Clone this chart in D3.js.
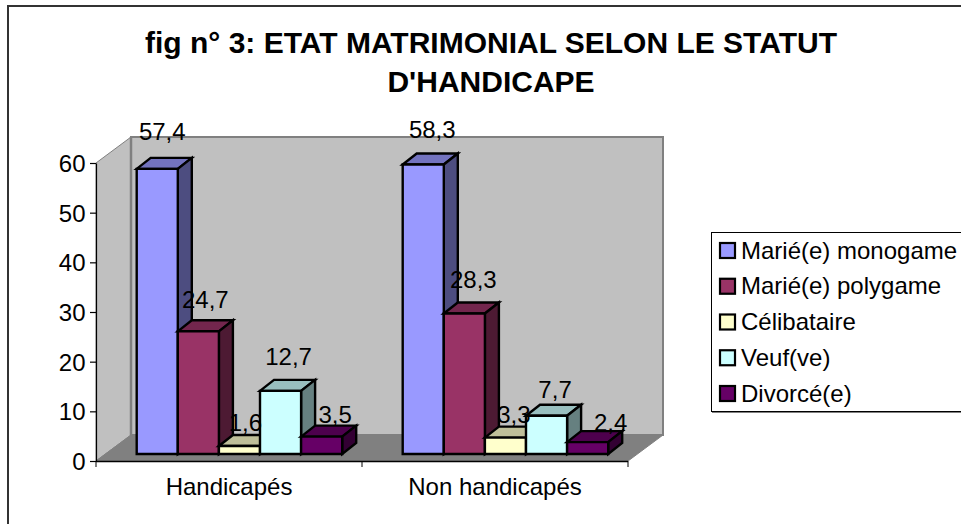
<!DOCTYPE html>
<html><head><meta charset="utf-8">
<script src="https://cdn.jsdelivr.net/npm/d3@7"></script>
<style>html,body{margin:0;padding:0;background:#fff;overflow:hidden}svg{display:block}text{font-family:"Liberation Sans",Arial,sans-serif;fill:#000}</style>
</head><body><div id="c"></div>
<script>
const titleLines = ["fig n° 3: ETAT MATRIMONIAL SELON LE STATUT", "D'HANDICAPE"];
const groups = ["Handicapés", "Non handicapés"];
const seriesNames = ["Marié(e) monogame", "Marié(e) polygame", "Célibataire", "Veuf(ve)", "Divorcé(e)"];
const handicapes = [57.4, 24.7, 1.6, 12.7, 3.5];
const nonHandicapes = [58.3, 28.3, 3.3, 7.7, 2.4];
const groupValues = [handicapes, nonHandicapes];
const seriesColors = ["#9999ff", "#993366", "#ffffcc", "#ccffff", "#660066"];
const yTicks = [0, 10, 20, 30, 40, 50, 60];

const W = 961, H = 524;
const svg = d3.select("#c").append("svg").attr("width", W).attr("height", H);
const fmt = v => String(v).replace(".", ",");

// chart frame runs off the right and bottom of the picture
svg.append("rect").attr("x", 8).attr("y", 6).attr("width", 1000).attr("height", 600)
  .attr("fill", "#fff").attr("stroke", "#333").attr("stroke-width", 2);

// scales
const y = d3.scaleLinear().domain([0, 60]).range([461, 163]);
const x0 = d3.scaleBand().domain(groups).range([96, 628]);
const x1 = d3.scaleBand().domain(seriesNames).range([0, 205.5]);
const wallDx = 35, wallDy = -26;
const barOffX = 40.7, barOffY = -7, barDx = 14, barDy = -11;

// 3D box
const L = x0.range()[0], R = x0.range()[1], B = y(0), T = y(60);
const poly = (pts, fill, stroke, sw) => svg.append("polygon").attr("points", pts.map(p => p.join(",")).join(" "))
  .attr("fill", fill).attr("stroke", stroke || "none").attr("stroke-width", sw || 0).attr("stroke-linejoin", "miter");
poly([[L + wallDx, T + wallDy], [R + wallDx, T + wallDy], [R + wallDx, B + wallDy], [L + wallDx, B + wallDy]], "#c0c0c0", "#808080", 2);
poly([[L, T], [L + wallDx, T + wallDy], [L + wallDx, B + wallDy], [L, B]], "#c0c0c0", "#808080", 1);
poly([[L, B], [L + wallDx, B + wallDy], [R + wallDx, B + wallDy], [R, B]], "#808080", "#808080", 1);
svg.append("line").attr("x1", L + wallDx).attr("x2", L + wallDx).attr("y1", T + wallDy).attr("y2", B + wallDy).attr("stroke", "#808080").attr("stroke-width", 2.5);

// axes
const yAxis = d3.axisLeft(y).tickValues(yTicks).tickSize(6).tickSizeOuter(0).tickPadding(4.5);
const gy = svg.append("g").attr("transform", `translate(${L},0)`).call(yAxis);
gy.selectAll("text").attr("font-size", 24).attr("dy", "0.36em");
gy.selectAll("path,line").attr("stroke", "#000").attr("stroke-width", 1.2);
const xAxisLine = svg.append("g");
xAxisLine.append("line").attr("x1", L).attr("x2", R).attr("y1", B + .5).attr("y2", B + .5).attr("stroke", "#000").attr("stroke-width", 1.4);
xAxisLine.selectAll("line.t").data([L, x0(groups[1]), R]).join("line").attr("class", "t")
  .attr("x1", d => d).attr("x2", d => d).attr("y1", B).attr("y2", B + 6).attr("stroke", "#000");
xAxisLine.selectAll("text").data(groups).join("text")
  .attr("x", d => x0(d) + x0.bandwidth() / 2).attr("y", 495)
  .attr("text-anchor", "middle").attr("font-size", 24).text(d => d);

// bars
const shade = (c, k) => { const r = d3.rgb(c); return d3.rgb(r.r * k, r.g * k, r.b * k).formatHex(); };
const BW = 2.4;
groups.forEach((g, gi) => {
  groupValues[gi].forEach((v, si) => {
    const xl = x0(g) + barOffX + x1(seriesNames[si]);
    const w = x1.bandwidth();
    const base = y(0) + barOffY;
    const top = base - (y(0) - y(v));
    const c = seriesColors[si];
    poly([[xl, top], [xl + barDx, top + barDy], [xl + w + barDx, top + barDy], [xl + w, top]], shade(c, 0.75), "#000", BW);
    poly([[xl + w, top], [xl + w + barDx, top + barDy], [xl + w + barDx, base + barDy], [xl + w, base]], shade(c, 0.5), "#000", BW);
    poly([[xl, top], [xl + w, top], [xl + w, base], [xl, base]], c, "#000", BW);
  });
});

// value labels: the gap above each bar is irregular in the source chart
const labelGap = [[29, 23, 15, 26, 14], [26.5, 25, 15, 18, 11]];
const labelShift = [[5, 7, 6, 8, 13.5], [9, 9, 8.5, 8.5, 23]];
groups.forEach((g, gi) => {
  groupValues[gi].forEach((v, si) => {
    const xl = x0(g) + barOffX + x1(seriesNames[si]);
    const top = y(0) - 7 - (y(0) - y(v));
    svg.append("text").attr("x", xl + x1.bandwidth() / 2 + labelShift[gi][si]).attr("y", top - labelGap[gi][si])
      .attr("text-anchor", "middle").attr("font-size", 24).text(fmt(v));
  });
});

// title
svg.selectAll("text.title").data(titleLines).join("text").attr("class", "title")
  .attr("x", 491).attr("y", (d, i) => 53 + i * 39)
  .attr("text-anchor", "middle").attr("font-size", 30).attr("font-weight", "bold").text(d => d);

// legend
const lg = svg.append("g");
lg.append("rect").attr("x", 712).attr("y", 234).attr("width", 300).attr("height", 179).attr("fill", "#808080");
lg.append("rect").attr("x", 711.5).attr("y", 232.5).attr("width", 300).attr("height", 179).attr("fill", "#fff").attr("stroke", "#000");
const rows = lg.selectAll("g").data(seriesNames).join("g").attr("transform", (d, i) => `translate(0,${251 + i * 35.75})`);
rows.append("rect").attr("x", 720).attr("y", -8).attr("width", 15).attr("height", 15)
  .attr("fill", (d, i) => seriesColors[i]).attr("stroke", "#000").attr("stroke-width", 2.2);
rows.append("text").attr("x", 741).attr("y", 7.5).attr("font-size", 24).text(d => d);
</script></body></html>
